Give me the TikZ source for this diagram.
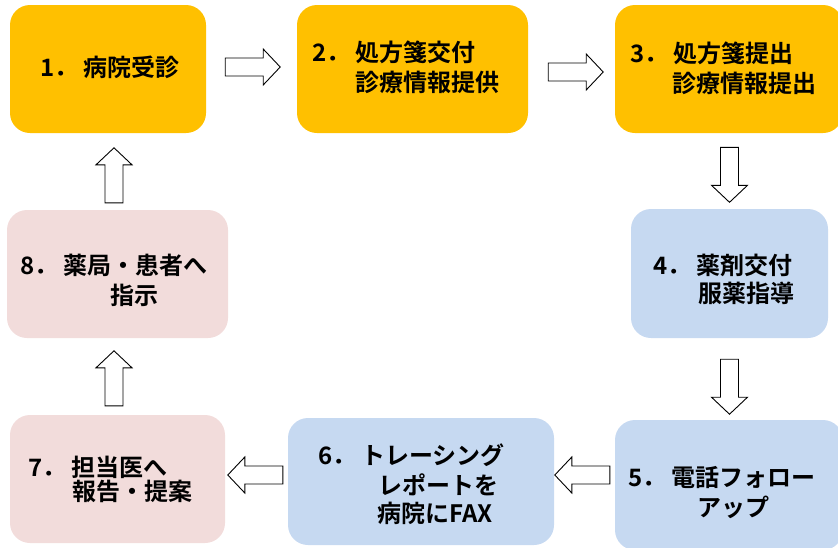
\documentclass[tikz,border=0pt]{standalone}
\usepackage{fontspec}
\newfontfamily\jp{Noto Sans CJK JP Bold}
\usetikzlibrary{calc}
\definecolor{yel}{HTML}{FFC000}
\definecolor{blu}{HTML}{C6D9F1}
\definecolor{pnk}{HTML}{F2DCDB}
\newcommand\nm[1]{#1．\hspace{5pt}}
\tikzset{
  box/.style={rounded corners=20pt, inner sep=0pt, minimum height=128pt},
  lbl/.style={anchor=base west, inner sep=0pt, align=left, font=\jp\fontsize{24}{30}\selectfont},
  barrow/.pic={\draw[line width=0.9pt, fill=white, line join=miter]
    (-27.5,-9) -- (10.5,-9) -- (10.5,-18) -- (27.5,0) -- (10.5,18) -- (10.5,9) -- (-27.5,9) -- cycle;}
}
\begin{document}
\begin{tikzpicture}[x=1pt,y=-1pt]
\useasboundingbox (0,0) rectangle (838,547);
% boxes
\node[box, fill=yel, minimum width=196pt] (b1) at (108,69) {};
\node[box, fill=yel, minimum width=231pt] (b2) at (412.5,69) {};
\node[box, fill=yel, minimum width=228pt] (b3) at (729,69) {};
\node[box, fill=blu, minimum width=197pt, minimum height=129pt] (b4) at (729.5,273.5) {};
\node[box, fill=blu, minimum width=228pt, minimum height=130pt] (b5) at (729,485) {};
\node[box, fill=blu, minimum width=266pt, minimum height=127pt] (b6) at (421,481.5) {};
\node[box, fill=pnk, minimum width=215pt] (b7) at (117.5,479) {};
\node[box, fill=pnk, minimum width=221pt] (b8) at (117.5,274) {};
% labels (anchor = baseline of the last line)
\node[lbl] (t1) at (40,76) {\nm{1}病院受診};
\node[lbl] (t2) at (312,91) {\nm{2}処方箋交付\\\hspace*{43pt}診療情報提供};
\node[lbl] (t3) at (630,92) {\nm{3}処方箋提出\\\hspace*{42pt}診療情報提出};
\node[lbl] (t4) at (653,302) {\nm{4}薬剤交付\\[-2pt]\hspace*{45pt}服薬指導};
\node[lbl] (t5) at (628,516) {\nm{5}電話フォロー\\\hspace*{69pt}アップ};
\node[lbl] (t6) at (318,522) {\nm{6}トレーシング\\\hspace*{60pt}レポートを\\[-2pt]\hspace*{59pt}病院にFAX};
\node[lbl] (t7) at (28,500) {\nm{7}担当医へ\\[-6pt]\hspace*{44pt}報告・提案};
\node[lbl] (t8) at (20,304) {\nm{8}薬局・患者へ\\\hspace*{90pt}指示};
% block arrows
\pic at ($(b1.east)+(46.5,-2)$) {barrow};
\pic at ($(b2.east)+(47.5,3)$) {barrow};
\pic[rotate=-90] at ($(b4.north)+(0,-34)$) {barrow};
\pic[rotate=-90] at ($(b4.south)+(0,48.5)$) {barrow};
\pic[rotate=180] at ($(b5.west)+(-32.5,-10)$) {barrow};
\pic[rotate=180] at ($(b6.west)+(-32.5,-6.5)$) {barrow};
\pic[rotate=90] at ($(b7.north)+(-3.5,-36.5)$) {barrow};
\pic[rotate=90] at ($(b8.north)+(-3.5,-34.5)$) {barrow};
\end{tikzpicture}
\end{document}
